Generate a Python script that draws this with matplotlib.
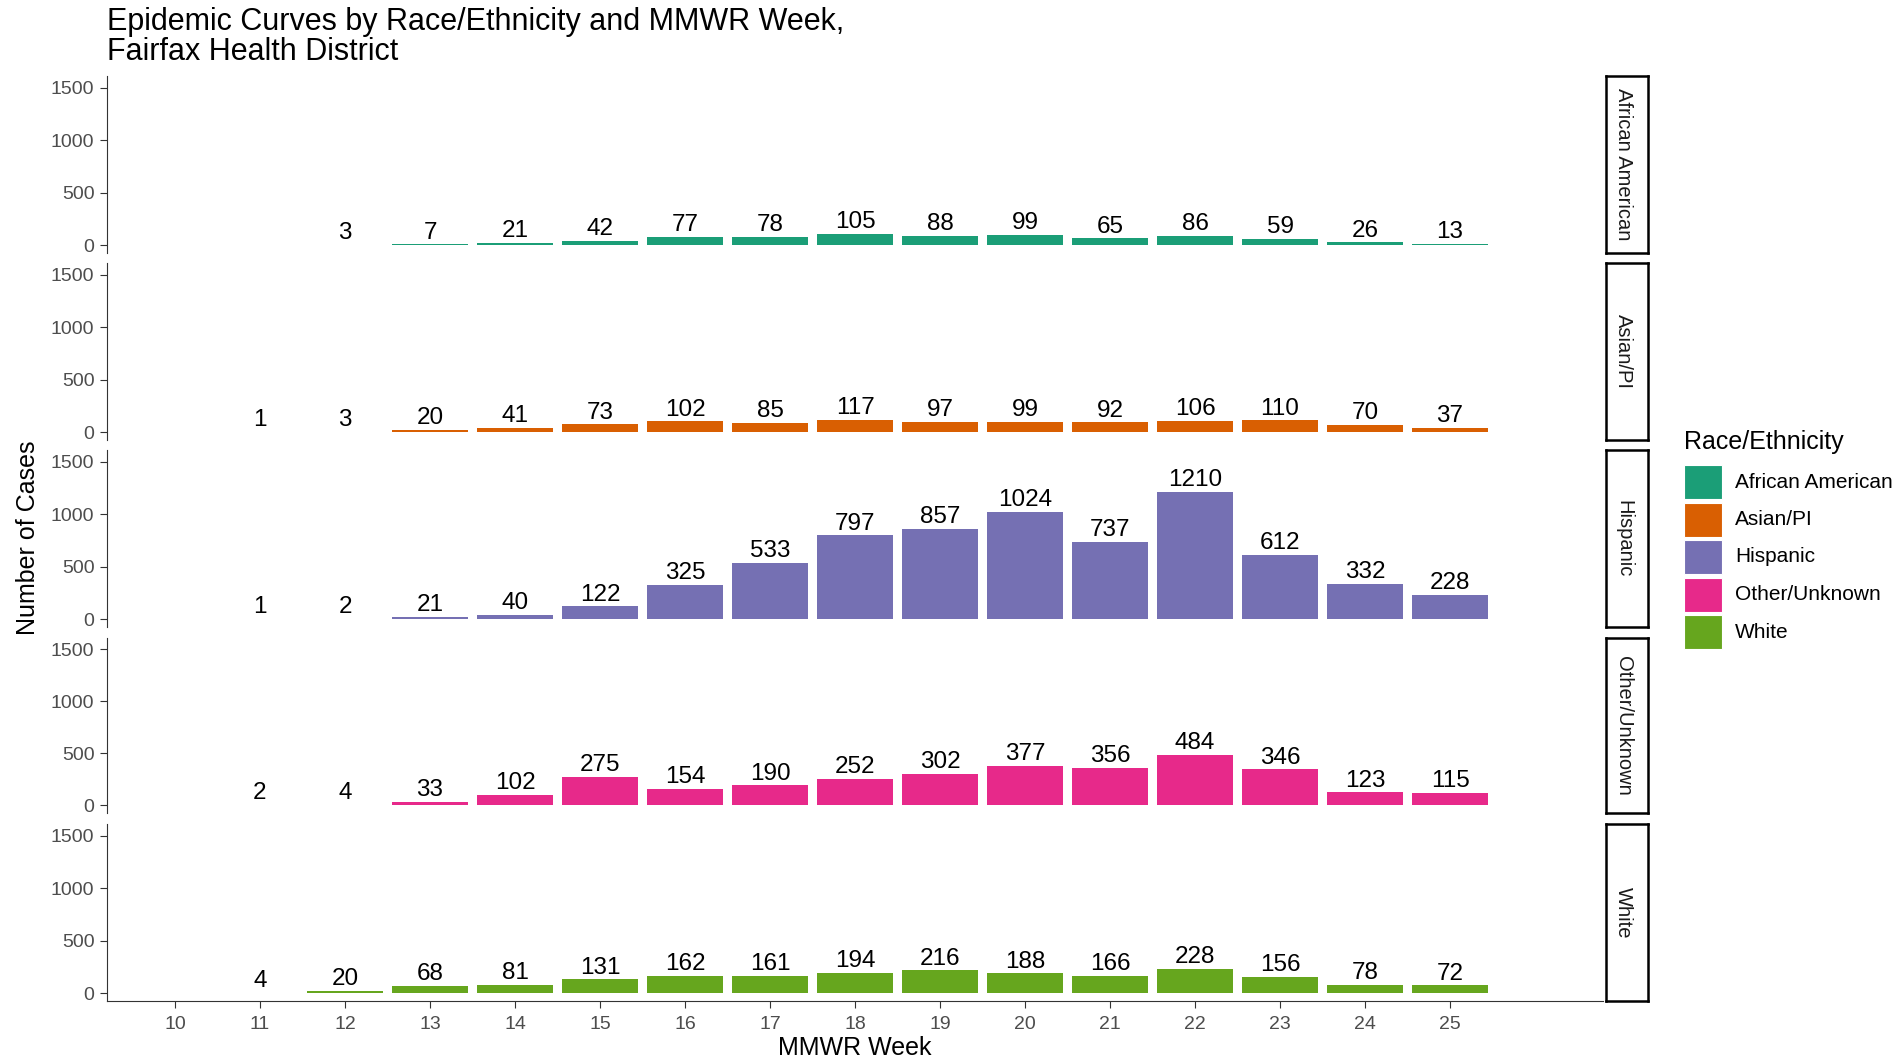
import matplotlib
matplotlib.use("Agg")
import matplotlib.pyplot as plt
from matplotlib.patches import Rectangle

plt.rcParams["font.family"] = ["Liberation Sans", "DejaVu Sans"]

# data
weeks = [11, 12, 13, 14, 15, 16, 17, 18, 19, 20, 21, 22, 23, 24, 25]
groups = ["African American", "Asian/PI", "Hispanic", "Other/Unknown", "White"]
colors = ["#1B9E77", "#D95F02", "#7570B3", "#E7298A", "#66A61E"]

african_american = [None, 3, 7, 21, 42, 77, 78, 105, 88, 99, 65, 86, 59, 26, 13]
asian_pi = [1, 3, 20, 41, 73, 102, 85, 117, 97, 99, 92, 106, 110, 70, 37]
hispanic = [1, 2, 21, 40, 122, 325, 533, 797, 857, 1024, 737, 1210, 612, 332, 228]
other_unknown = [2, 4, 33, 102, 275, 154, 190, 252, 302, 377, 356, 484, 346, 123, 115]
white = [4, 20, 68, 81, 131, 162, 161, 194, 216, 188, 166, 228, 156, 78, 72]
series = [african_american, asian_pi, hispanic, other_unknown, white]

x_ticks = list(range(10, 26))
y_ticks = [0, 500, 1000, 1500]

W, H = 1903, 1060
fig = plt.figure(figsize=(W / 100, H / 100), dpi=100)

# panel boundaries in pixels (top, bottom)
panel_rows = [(76, 253), (263, 440), (450, 627), (638, 813), (824, 1001)]
left_px, right_px = 107, 1603
strip_l, strip_r = 1606, 1648


def frac(x0, y0, x1, y1):
    return [x0 / W, 1 - y1 / H, (x1 - x0) / W, (y1 - y0) / H]


for i, (name, vals, col) in enumerate(zip(groups, series, colors)):
    top, bot = panel_rows[i]
    ax = fig.add_axes(frac(left_px, top, right_px, bot))
    xs = [w for w, v in zip(weeks, vals) if v is not None]
    ys = [v for v in vals if v is not None]
    bars = ax.bar(xs, ys, width=0.9, color=col, linewidth=0)
    ax.bar_label(bars, labels=[str(v) for v in ys], padding=0.5, fontsize=17.5,
                 color="black")
    ax.set_xlim(9.2, 26.8)
    ax.set_ylim(-76, 1610)
    ax.set_yticks(y_ticks)
    ax.tick_params(axis="y", labelsize=14, colors="#333333", length=5,
                   labelcolor="#4d4d4d", pad=4)
    for s in ["top", "right"]:
        ax.spines[s].set_visible(False)
    ax.spines["left"].set_color("#333333")
    if i < len(groups) - 1:
        ax.spines["bottom"].set_visible(False)
        ax.set_xticks([])
    else:
        ax.spines["bottom"].set_color("#333333")
        ax.set_xticks(x_ticks)
        ax.tick_params(axis="x", labelsize=14, colors="#333333", length=5,
                       labelcolor="#4d4d4d", pad=6)
        ax.set_xlabel("MMWR Week", fontsize=18, labelpad=2)

    # facet strip
    sax = fig.add_axes(frac(strip_l, top, strip_r, bot))
    sax.set_xticks([])
    sax.set_yticks([])
    for s in sax.spines.values():
        s.set_linewidth(1.8)
        s.set_color("black")
    sax.text(0.42, 0.5, name, rotation=270, ha="center", va="center",
             fontsize=14.5, color="#1a1a1a", transform=sax.transAxes)

fig.text(28 / W, 1 - 538 / H, "Number of Cases", rotation=90, ha="center",
         va="center", fontsize=18)
fig.text(107 / W, 1 - 7 / H, "Epidemic Curves by Race/Ethnicity and MMWR Week,\nFairfax Health District",
         ha="left", va="top", fontsize=22, linespacing=1.0)

# legend drawn by hand to match the ggplot key layout
fig.text(1684 / W, 1 - 442 / H, "Race/Ethnicity", ha="left", va="center",
         fontsize=18)
key_rows = [482, 519.5, 557, 594.5, 632]
for g, c, yc in zip(groups, colors, key_rows):
    fig.add_artist(Rectangle((1684 / W, 1 - (yc + 17) / H), 38 / W, 34 / H,
                             facecolor=c, edgecolor="white", linewidth=0.8,
                             transform=fig.transFigure))
    fig.text(1735 / W, 1 - yc / H, g, ha="left", va="center", fontsize=15)

fig.savefig("out.png", dpi=100)
